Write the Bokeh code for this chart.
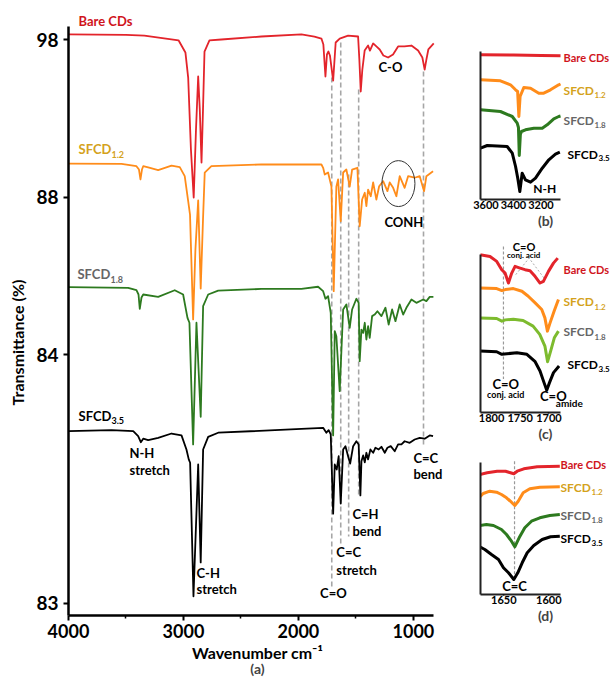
from bokeh.plotting import figure
from bokeh.models import Range1d, FixedTicker, Label, Title
from bokeh.layouts import row, column
from bokeh.embed import file_html
from bokeh.resources import INLINE

FONT = "Lato"
RED = "#E3242B"
ORANGE = "#FF8C1A"
GREEN = "#2D7A1F"
LIME = "#7DBB2E"
BLACK = "#000000"
LBL_RED = "#D0141C"
LBL_GOLD = "#D4A21C"
LBL_GRAY = "#666666"

# ---------------- panel (a): full FTIR spectra (stacked, offset transmittance) ----------------
BARE_WN = [4000, 3500, 3340, 3043, 2983, 2959, 2935, 2911, 2891, 2872, 2858, 2843, 2830, 2817, 2774, 2670,
           2322, 1974, 1861, 1800, 1783, 1765, 1752, 1739, 1726, 1698, 1676, 1641, 1568, 1481, 1470, 1458,
           1444, 1424, 1394, 1378, 1350, 1322, 1293, 1261, 1220, 1177, 1133, 1078, 1017, 959, 922, 902, 887,
           870, 823]
BARE_T = [98.33, 98.29, 98.25, 97.95, 97.18, 95.59, 91.04, 88.0, 92.3, 95.66, 93.57, 90.21, 93.57, 97.24,
          97.94, 98.0, 98.19, 98.32, 98.19, 98.06, 97.68, 95.66, 97.05, 97.24, 96.99, 95.40, 97.81, 98.06,
          98.25, 98.19, 96.73, 94.71, 96.10, 97.30, 97.62, 97.30, 97.75, 97.56, 97.37, 96.99, 96.86, 97.05,
          97.56, 97.56, 97.62, 97.30, 96.86, 96.10, 96.73, 97.37, 97.75]

SF12_WN = [4000, 3539, 3409, 3387, 3374, 3361, 3350, 3307, 3220, 3104, 3032, 2989, 2959, 2943, 2916, 2896,
           2872, 2850, 2830, 2815, 2757, 2322, 1974, 1800, 1785, 1771, 1742, 1713, 1693, 1670, 1655, 1632,
           1611, 1583, 1554, 1533, 1487, 1467, 1446, 1423, 1409, 1394, 1371, 1350, 1322, 1298, 1263, 1226,
           1206, 1176, 1148, 1119, 1076, 1046, 989, 945, 907, 887, 829]
SF12_T = [90.15, 90.13, 89.98, 89.77, 89.14, 89.77, 89.98, 89.90, 89.73, 90.02, 89.92, 89.35, 87.77, 86.92,
          80.28, 84.71, 87.81, 82.24, 86.61, 89.58, 89.98, 90.09, 90.09, 90.09, 89.88, 89.45, 89.58, 88.69,
          82.07, 88.69, 89.14, 86.50, 89.58, 89.77, 88.69, 89.77, 89.88, 86.18, 87.87, 88.30, 87.45, 88.50,
          88.08, 88.95, 87.87, 88.71, 89.03, 88.40, 88.95, 88.61, 88.08, 89.35, 88.61, 89.35, 89.25, 89.35,
          88.40, 89.35, 89.66]

SF18_WN = [4000, 3481, 3409, 3391, 3380, 3365, 3350, 3220, 3076, 3003, 2965, 2948, 2916, 2887, 2850, 2829,
           2785, 2698, 2322, 1974, 1829, 1785, 1765, 1742, 1719, 1698, 1684, 1670, 1641, 1611, 1583, 1554,
           1533, 1496, 1476, 1467, 1452, 1437, 1423, 1409, 1394, 1380, 1359, 1337, 1313, 1278, 1243, 1215,
           1185, 1156, 1119, 1089, 1061, 1017, 974, 915, 887, 858, 826]
SF18_T = [82.32, 82.28, 82.13, 81.86, 80.95, 81.67, 81.86, 81.71, 82.13, 81.86, 80.38, 80.07, 72.37, 80.07,
          74.12, 81.12, 81.86, 82.11, 82.21, 82.22, 82.35, 82.07, 81.59, 81.75, 80.70, 72.94, 79.54, 79.22,
          75.74, 80.91, 81.23, 79.75, 80.91, 81.59, 81.33, 77.64, 79.64, 79.43, 80.07, 79.01, 79.85, 79.12,
          80.49, 80.59, 80.80, 80.49, 81.02, 79.96, 80.91, 80.17, 81.23, 80.59, 81.02, 81.54, 81.33, 81.54,
          81.44, 81.71, 81.71]

SF35_WN = [4000, 3626, 3437, 3394, 3371, 3350, 3307, 3220, 3104, 3017, 2974, 2954, 2942, 2913, 2872, 2850,
           2829, 2785, 2698, 1974, 1785, 1757, 1737, 1719, 1698, 1684, 1667, 1650, 1632, 1611, 1591, 1568,
           1550, 1524, 1496, 1476, 1461, 1452, 1437, 1423, 1409, 1394, 1374, 1350, 1330, 1302, 1278, 1249,
           1226, 1197, 1162, 1133, 1104, 1076, 1032, 989, 945, 902, 858, 829]
SF35_T = [73.21, 73.27, 73.21, 72.89, 72.51, 72.73, 72.64, 72.79, 73.06, 72.94, 72.05, 71.42, 71.21, 62.76,
          71.10, 64.90, 72.05, 72.85, 73.11, 73.35, 73.42, 73.11, 73.27, 73.0, 67.99, 71.10, 70.78, 71.62,
          68.63, 72.05, 72.26, 71.62, 71.16, 72.26, 72.57, 72.37, 69.14, 71.31, 71.67, 71.24, 71.84, 71.42,
          72.05, 71.84, 72.16, 72.05, 72.22, 71.84, 72.16, 72.26, 71.94, 72.37, 72.37, 72.57, 72.47, 72.68,
          72.79, 72.73, 72.94, 72.89]

Y_TICKS = [62.30, 78.06, 88.0, 98.0]
Y_TICK_LABELS = ["83", "84", "88", "98"]
Y_AXIS_SPAN = (61.54, 98.82)
X_AXIS_SPAN = (825, 4000)
X_TICKS = [1000, 2000, 3000, 4000]
X_MINOR = [1500, 2500, 3500]

DASH_X = [1710, 1632, 1563, 1476, 912]
DASH_TOP = [95.59, 97.81, 89.45, 94.83, 95.97]
DASH_BOTTOM = [63.38, 65.91, 66.54, 69.07, 72.24]

ANNOT_TEXT = ["C-O", "CONH", "N-H", "stretch", "C-H", "stretch", "C=O", "C=C", "stretch", "C=H", "bend", "C=C", "bend"]
ANNOT_X = [1304, 1252, 3470, 3470, 2887, 2887, 1696, 1670, 1670, 1530, 1530, 1000, 1000]
ANNOT_Y = [96.29, 86.42, 71.8, 70.72, 64.26, 63.19, 62.94, 65.53, 64.39, 67.94, 66.86, 71.54, 70.47]
ANNOT_ALIGN = ["left", "left", "left", "left", "left", "left", "center", "left", "left", "left", "left", "left", "left"]

CIRCLE_X, CIRCLE_Y, CIRCLE_W, CIRCLE_H = 1130, 88.88, 287, 2.91

NAME_X = [3913, 3913, 3922, 3913]
NAME_Y = [99.2, 91.04, 83.13, 74.14]
NAME_SUB_Y = [None, 90.72, 82.81, 73.88]

# ---------------- panel (b): 3600-3100 cm-1 ----------------
B_RED_WN = [3640, 3400, 3200, 3058]
B_RED = [14.47, 14.44, 14.40, 14.37]
B_OR_WN = [3640, 3495, 3422, 3385, 3370, 3361, 3352, 3325, 3276, 3216, 3180, 3131, 3071, 3058]
B_OR = [11.97, 11.87, 11.47, 10.97, 10.8, 8.3, 10.3, 11.2, 11.13, 10.63, 10.63, 10.97, 11.47, 11.55]
B_GR_WN = [3640, 3495, 3409, 3373, 3364, 3358, 3350, 3342, 3313, 3252, 3191, 3155, 3107, 3071, 3058]
B_GR = [8.97, 8.8, 8.3, 7.63, 7.2, 4.4, 6.5, 6.8, 6.97, 7.13, 7.13, 7.47, 8.07, 8.3, 8.35]
B_BK_WN = [3640, 3591, 3446, 3409, 3385, 3369, 3354, 3337, 3313, 3276, 3240, 3191, 3143, 3095, 3063]
B_BK = [5.13, 5.4, 5.3, 4.63, 3.3, 2.13, 0.8, 2.63, 1.97, 1.73, 2.13, 3.13, 3.97, 4.53, 4.73]
B_TICKS = [3200, 3400, 3600]
B_AXIS_X, B_AXIS_Y = (3058, 3640), (0, 14.8)
B_NAME_X = [3036, 3036, 3036, 3007]
B_NAME_Y = [14.2, 10.9, 7.9, 4.53]

# ---------------- panel (c): C=O region ----------------
C_RED_WN = [1820, 1802.6, 1790.9, 1782.2, 1776.4, 1770.5, 1764.8, 1759, 1750.3, 1741.6, 1732.9, 1724.2,
            1715.5, 1709.6, 1700.8, 1692.1, 1684.6]
C_RED = [15.84, 15.67, 15.17, 14.34, 14.0, 13.0, 14.0, 14.67, 14.5, 14.34, 14.24, 13.67, 13.0, 13.17,
         14.17, 15.0, 15.5]
C_OR_WN = [1820, 1791, 1782, 1776, 1762, 1747, 1736, 1724, 1712.5, 1707, 1702.6, 1698, 1691, 1683.4]
C_OR = [12.5, 12.44, 12.24, 12.34, 12.44, 12.17, 11.67, 11.0, 10.34, 9.5, 8.17, 9.0, 10.17, 11.34]
C_GR_WN = [1820, 1791, 1782, 1776, 1762, 1745, 1727.6, 1716, 1707, 1702.3, 1697, 1690.6, 1683.4]
C_GR = [9.5, 9.44, 9.17, 9.3, 9.37, 9.24, 8.67, 7.84, 6.67, 5.1, 6.17, 7.5, 8.17]
C_BK_WN = [1820, 1791, 1782, 1773.3, 1755.8, 1738.4, 1724, 1715.5, 1708.5, 1703.8, 1699, 1692, 1682.3]
C_BK = [6.17, 6.1, 5.84, 5.9, 6.0, 5.84, 5.1, 4.17, 3.0, 2.24, 3.0, 4.0, 4.67]
C_TICKS = [1700, 1750, 1800]
C_AXIS_X, C_AXIS_Y = (1679.8, 1819.2), (0, 15.9)
C_DASH_X, C_DASH_TOP, C_DASH_BOTTOM = 1779.2, 16.67, 3.37
C_FIT_X = [1757.8, 1734.6, 1708.5]
C_FIT_Y = [13.84, 15.5, 13.5]
C_NAME_X = [1674.6, 1674.6, 1674.6, 1667.6]
C_NAME_Y = [14.34, 11.1, 8.1, 4.84]

# ---------------- panel (d): C=C region ----------------
D_RED_WN = [1676.7, 1668.5, 1657.4, 1648.1, 1642.6, 1638.9, 1635.1, 1627.8, 1612.9, 1587.8]
D_RED = [12.0, 12.17, 12.33, 12.33, 12.17, 12.07, 12.33, 12.57, 12.77, 12.83]
D_OR_WN = [1676.7, 1672.9, 1665.6, 1658.1, 1652.6, 1647, 1641.5, 1637.8, 1634, 1628.5, 1621.1, 1610, 1587.8]
D_OR = [9.77, 10.1, 10.33, 10.23, 10.0, 9.67, 9.23, 8.9, 9.33, 10.17, 10.57, 10.73, 10.77]
D_GR_WN = [1676.7, 1669.3, 1661.5, 1652.6, 1647, 1641.5, 1637.8, 1633, 1626.7, 1619.3, 1610, 1598.9, 1587.8]
D_GR = [6.9, 7.0, 6.9, 6.5, 6.0, 5.33, 4.77, 5.67, 6.67, 7.33, 7.67, 7.9, 8.0]
D_BK_WN = [1676.7, 1671.1, 1663.7, 1655.9, 1650.4, 1644.8, 1638.9, 1634.5, 1629.6, 1624.0, 1616.7, 1607.4,
           1598.1, 1587.8]
D_BK = [4.77, 4.5, 4.0, 3.5, 2.67, 2.17, 1.5, 2.17, 3.17, 4.17, 4.9, 5.5, 5.77, 5.83]
D_TICKS = [1600, 1650]
D_AXIS_X, D_AXIS_Y = (1587, 1675.9), (0, 13.2)
D_DASH_X, D_DASH_TOP, D_DASH_BOTTOM = 1638.1, 13.33, 1.5
D_NAME_X = [1587, 1587, 1587, 1587]
D_NAME_Y = [13.0, 10.67, 7.9, 5.57]

SERIES_NAMES = ["Bare CDs", "SFCD", "SFCD", "SFCD"]
SERIES_SUBS = [None, "1.2", "1.8", "3.5"]
NAME_COLORS = [LBL_RED, LBL_GOLD, LBL_GRAY, BLACK]


def add_label(p, x, y, text, size, color=BLACK, align="left", x_offset=0):
    p.add_layout(Label(x=x, y=y, text=text, text_font=FONT, text_font_size=size,
                       text_font_style="bold", text_color=color, text_align=align,
                       text_baseline="middle", x_offset=x_offset))


def add_names(p, xs, ys, sub_ys, size, sub_size, sub_off, bare_size):
    for i in range(4):
        add_label(p, xs[i], ys[i], SERIES_NAMES[i], bare_size if i == 0 else size, NAME_COLORS[i])
        if SERIES_SUBS[i]:
            add_label(p, xs[i], sub_ys[i], SERIES_SUBS[i], sub_size, NAME_COLORS[i], x_offset=sub_off)


# ---------------- build main figure ----------------
p = figure(frame_width=378, frame_height=606, min_border_left=68, min_border_right=14,
           min_border_top=9, min_border_bottom=62,
           x_range=Range1d(4000, 712), y_range=Range1d(61.54, 99.9),
           output_backend="svg", toolbar_location=None)
p.grid.visible = False
p.outline_line_color = None
p.background_fill_color = "white"

p.segment(x0=DASH_X, y0=DASH_TOP, x1=DASH_X, y1=DASH_BOTTOM, line_color="#A6A6A6",
          line_width=1.6, line_dash="5 3")
for wn, t, c in [(BARE_WN, BARE_T, RED), (SF12_WN, SF12_T, ORANGE), (SF18_WN, SF18_T, GREEN),
                 (SF35_WN, SF35_T, BLACK)]:
    p.line(wn, t, line_color=c, line_width=1.8, line_join="round")
p.ellipse(x=[CIRCLE_X], y=[CIRCLE_Y], width=[CIRCLE_W], height=[CIRCLE_H], fill_color=None,
          line_color="#333333", line_width=1)

p.xaxis.ticker = FixedTicker(ticks=X_TICKS, minor_ticks=X_MINOR)
p.yaxis.ticker = FixedTicker(ticks=Y_TICKS, minor_ticks=[])
p.yaxis.major_label_overrides = {k: v for k, v in zip(Y_TICKS, Y_TICK_LABELS)}
p.xaxis.bounds = X_AXIS_SPAN
p.yaxis.bounds = Y_AXIS_SPAN
for ax in (p.xaxis[0], p.yaxis[0]):
    ax.axis_line_width = 2.5
    ax.axis_line_color = BLACK
    ax.major_tick_line_width = 2
    ax.major_tick_out = 5
    ax.major_tick_in = 0
    ax.minor_tick_out = 3
    ax.minor_tick_in = 0
    ax.minor_tick_line_width = 1.5
    ax.major_label_text_font = FONT
    ax.major_label_text_font_style = "bold"
    ax.major_label_text_color = BLACK
    ax.axis_label_text_font = FONT
    ax.axis_label_text_font_style = "bold"
    ax.axis_label_text_color = BLACK
p.xaxis.major_label_standoff = 3
p.yaxis.major_label_standoff = 5
p.xaxis.major_label_text_font_size = "18px"
p.yaxis.major_label_text_font_size = "19px"
p.xaxis.axis_label = "Wavenumber cm⁻¹"
p.yaxis.axis_label = "Transmittance (%)\u2003\u2003\u2003\u2003\u2003"
p.xaxis.axis_label_text_font_size = "16px"
p.yaxis.axis_label_text_font_size = "16px"
p.xaxis.axis_label_standoff = 2
p.yaxis.axis_label_standoff = 6
p.add_layout(Title(text="(a)", align="center", text_font=FONT, text_font_size="14px",
                   text_font_style="bold", standoff=-14), "below")

for t, x, y, a in zip(ANNOT_TEXT, ANNOT_X, ANNOT_Y, ANNOT_ALIGN):
    add_label(p, x, y, t, "13px", BLACK, a)
add_names(p, NAME_X, NAME_Y, NAME_SUB_Y, "13px", "9px", 33, "13px")


# ---------------- insets ----------------
def inset(xr, yr, xb, yb, fh, top, bottom, ticks, title):
    q = figure(frame_width=130, frame_height=fh, min_border_left=20, min_border_right=0,
               min_border_top=top, min_border_bottom=bottom, x_range=Range1d(*xr), y_range=Range1d(*yr),
               output_backend="svg", toolbar_location=None)
    q.grid.visible = False
    q.outline_line_color = None
    q.xaxis.ticker = FixedTicker(ticks=ticks, minor_ticks=[])
    q.yaxis.ticker = FixedTicker(ticks=[], minor_ticks=[])
    q.yaxis.major_label_text_font_size = "0px"
    q.xaxis.bounds = xb
    q.yaxis.bounds = yb
    for ax in (q.xaxis[0], q.yaxis[0]):
        ax.axis_line_width = 2
        ax.axis_line_color = "#222222"
        ax.major_tick_out = 1
        ax.major_tick_in = 0
        ax.major_tick_line_width = 1.5
        ax.minor_tick_line_color = None
        ax.major_label_standoff = 0
        ax.major_label_text_font = FONT
        ax.major_label_text_font_style = "bold"
        ax.major_label_text_color = BLACK
    q.xaxis.major_label_text_font_size = "11px"
    q.add_layout(Title(text=title, align="center", text_font=FONT, text_font_size="14px",
                       text_font_style="bold", standoff=-4), "below")
    return q


pb = inset((3640, 2694.5), (0, 14.8), B_AXIS_X, B_AXIS_Y, 148, 51, 40, B_TICKS, "(b)")
for wn, v, c in [(B_RED_WN, B_RED, RED), (B_OR_WN, B_OR, ORANGE), (B_GR_WN, B_GR, GREEN), (B_BK_WN, B_BK, BLACK)]:
    pb.line(wn, v, line_color=c, line_width=3, line_join="round")
add_names(pb, B_NAME_X, B_NAME_Y, [None] + [y - 0.4 for y in B_NAME_Y[1:]], "12px", "8px", 31, "11px")
add_label(pb, 3257, 1.13, "N-H", "12px")

pc = inset((1819.2, 1592.7), (0, 17.27), C_AXIS_X, C_AXIS_Y, 172, 1, 39, C_TICKS, "(c)")
pc.segment(x0=[C_DASH_X], y0=[C_DASH_TOP], x1=[C_DASH_X], y1=[C_DASH_BOTTOM], line_color="#999999",
           line_width=1.2, line_dash="3 2")
pc.line(C_FIT_X, C_FIT_Y, line_color="#AAAAAA", line_width=1, line_dash="2 2")
for wn, v, c in [(C_RED_WN, C_RED, RED), (C_OR_WN, C_OR, ORANGE), (C_GR_WN, C_GR, LIME), (C_BK_WN, C_BK, BLACK)]:
    pc.line(wn, v, line_color=c, line_width=3, line_join="round")
add_names(pc, C_NAME_X, C_NAME_Y, [None] + [y - 0.5 for y in C_NAME_Y[1:]], "12px", "8px", 31, "11px")
add_label(pc, 1743.4, 16.67, "C=O", "11px", align="center")
add_label(pc, 1744, 15.77, "conj. acid", "8px", align="center")
add_label(pc, 1775.2, 2.84, "C=O", "13px", align="center")
add_label(pc, 1775.2, 1.84, "conj. acid", "9px", align="center")
add_label(pc, 1715.5, 1.67, "C=O", "13px")
add_label(pc, 1688, 1.0, "amide", "10px")

pd_ = inset((1675.9, 1531.5), (0, 14.0), D_AXIS_X, D_AXIS_Y, 140, 3, 70, D_TICKS, "(d)")
pd_.segment(x0=[D_DASH_X], y0=[D_DASH_TOP], x1=[D_DASH_X], y1=[D_DASH_BOTTOM], line_color="#999999",
            line_width=1.2, line_dash="3 2")
for wn, v, c in [(D_RED_WN, D_RED, RED), (D_OR_WN, D_OR, ORANGE), (D_GR_WN, D_GR, GREEN), (D_BK_WN, D_BK, BLACK)]:
    pd_.line(wn, v, line_color=c, line_width=3, line_join="round")
add_names(pd_, D_NAME_X, D_NAME_Y, [None] + [y - 0.4 for y in D_NAME_Y[1:]], "12px", "8px", 31, "11px")
add_label(pd_, 1638.1, 0.83, "C=C", "13px", align="center")

layout = row(p, column(pb, pc, pd_))
open("out.html", "w").write(file_html(layout, INLINE))
